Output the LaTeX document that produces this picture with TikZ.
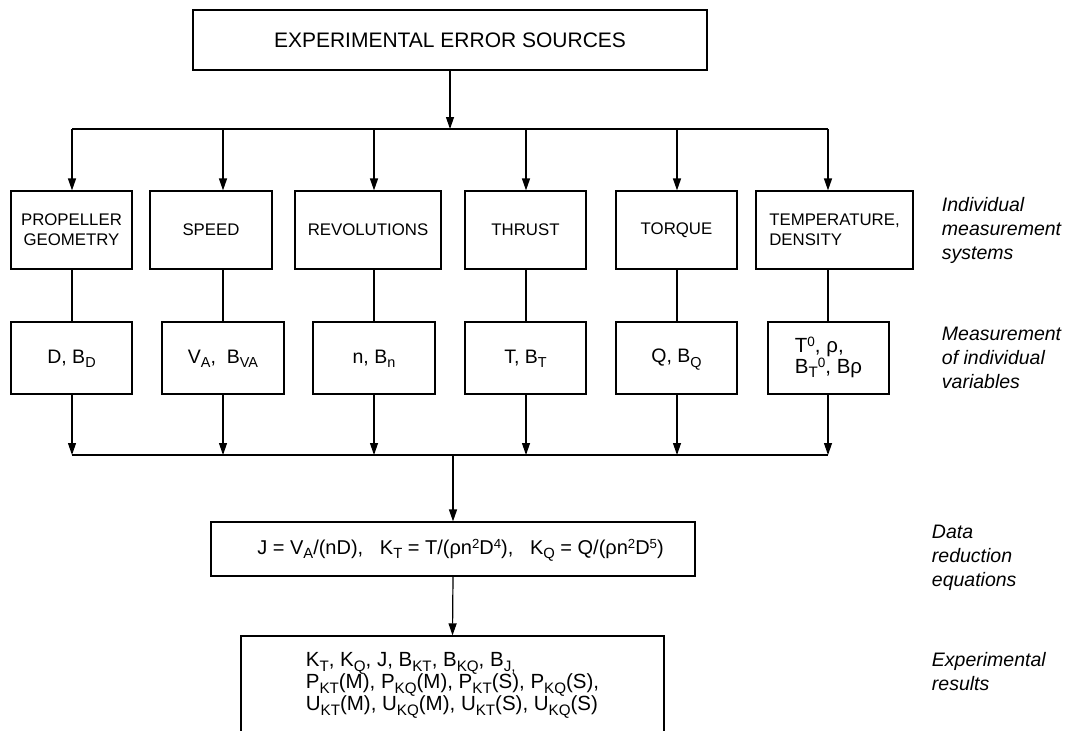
\documentclass[tikz,border=0pt]{standalone}
\usepackage{fontspec}
\setmainfont{Liberation Sans}
\usetikzlibrary{arrows.meta}
\newcommand{\subtxt}[1]{\raisebox{-0.22em}[0pt][0pt]{\scalebox{0.74}{#1}}}
\newcommand{\suptxt}[1]{\raisebox{0.3em}[0pt][0pt]{\scalebox{0.66}{#1}}}
\begin{document}
\begin{tikzpicture}[x=1pt, y=-1pt, line width=1.2pt, >={Triangle[length=12pt,width=8pt]},
 sysbox/.style={draw, minimum height=78pt, inner sep=2pt, align=center, font=\fontsize{16.8}{20}\selectfont},
 varbox/.style={draw, minimum height=72pt, minimum width=121pt, inner sep=2pt, align=center, font=\fontsize{19.5}{20}\selectfont},
 side/.style={anchor=west, align=left, font=\fontsize{19.5}{24}\selectfont\itshape}]
 \useasboundingbox (0,0) rectangle (1074,731);
 % source and first bus
 \node[draw, minimum width=514pt, minimum height=60pt, font=\fontsize{21}{24}\selectfont] (src) at (450,40) {EXPERIMENTAL ERROR SOURCES};
 \coordinate (bus) at (0,129);
 \coordinate (join) at (0,455);
 \coordinate (c1) at (72,0);  \coordinate (c2) at (223,0);
 \coordinate (c3) at (374,0); \coordinate (c4) at (526,0);
 \coordinate (c5) at (677,0); \coordinate (c6) at (828,0);
 % measurement systems
 \node[sysbox, minimum width=121pt] (geom) at (71.5,230) {PROPELLER\\GEOMETRY};
 \node[sysbox, minimum width=122pt] (speed) at (211,230) {SPEED};
 \node[sysbox, minimum width=146pt] (rev) at (368,230) {REVOLUTIONS};
 \node[sysbox, minimum width=121pt] (thrust) at (525.5,230) {THRUST};
 \node[sysbox, minimum width=121pt] (torque) at (676.5,230) {TORQUE};
 \node[sysbox, minimum width=157pt, align=left] (temp) at (834.5,230) {TEMPERATURE,\\DENSITY};
 % variables
 \node[varbox] (d) at (71.5,358) {D, B\subtxt{D}};
 \node[varbox, minimum width=122pt] (va) at (223,358) {V\subtxt{A},\ \ B\subtxt{VA}};
 \node[varbox, minimum width=122pt] (n) at (374,358) {n, B\subtxt{n}};
 \node[varbox] (t) at (525.5,358) {T, B\subtxt{T}};
 \node[varbox] (q) at (676.5,358) {Q, B\subtxt{Q}};
 \node[varbox, align=left, font=\fontsize{20.5}{21}\selectfont] (dens) at (828.5,358) {T\suptxt{0}, ρ,\\B\subtxt{T}\suptxt{0}, Bρ};
 % reduction and results
 \node[draw, minimum width=484pt, minimum height=54pt, font=\fontsize{20}{22}\selectfont] (eq) at (453,549)
  {\hspace{15pt}J = V\subtxt{A}/(nD),\ \ \ K\subtxt{T} = T/(ρn\suptxt{2}D\suptxt{4}),\ \ \ K\subtxt{Q} = Q/(ρn\suptxt{2}D\suptxt{5})};
 \node[draw, minimum width=423pt, minimum height=96pt, align=left, font=\fontsize{20.5}{22}\selectfont] (res) at (452.5,684)
  {K\subtxt{T}, K\subtxt{Q}, J, B\subtxt{KT}, B\subtxt{KQ}, B\subtxt{J,}\\
   P\subtxt{KT}(M), P\subtxt{KQ}(M), P\subtxt{KT}(S), P\subtxt{KQ}(S),\hspace{16pt}\\
   U\subtxt{KT}(M), U\subtxt{KQ}(M), U\subtxt{KT}(S), U\subtxt{KQ}(S)};
 % side labels
 \node[side] (lsys) at (938,230) {Individual\\measurement\\systems};
 \node[side] (lvar) at (938,358) {Measurement\\of individual\\variables};
 \node[side] (leq) at (928,558) {Data\\reduction\\equations};
 \node[side] (lres) at (928,672) {Experimental\\results};
 % connectors
 \draw[->] (src.south) -- (src.south |- bus);
 \draw (c1 |- bus) -- (c6 |- bus);
 \draw (c1 |- join) -- (c6 |- join);
 \foreach \c/\a/\b in {c1/geom/d, c2/speed/va, c3/rev/n, c4/thrust/t, c5/torque/q, c6/temp/dens}{
  \draw[->] (\c |- bus) -- (\c |- \a.north);
  \draw (\c |- \a.south) -- (\c |- \b.north);
  \draw[->] (\c |- \b.south) -- (\c |- join);
 }
 \draw[->] (eq.north |- join) -- (eq.north);
 \draw[->] (eq.south) -- (res.north);
\end{tikzpicture}
\end{document}
